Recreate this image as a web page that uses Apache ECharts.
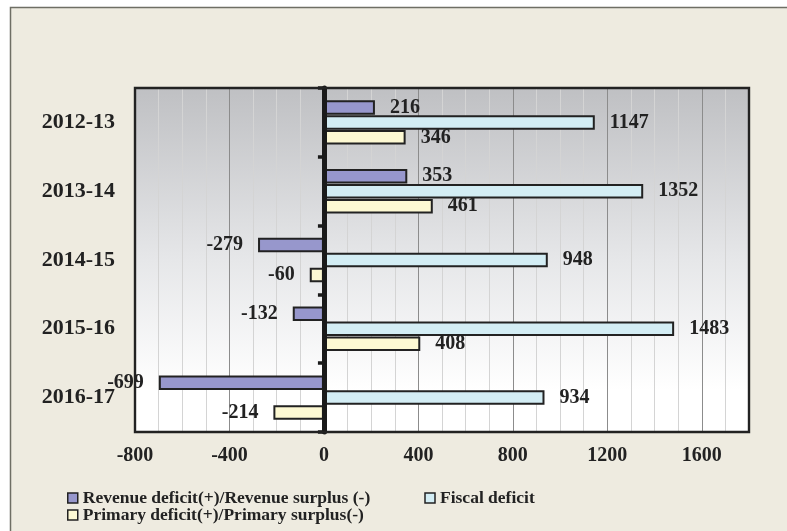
<!DOCTYPE html>
<html>
<head>
<meta charset="utf-8">
<script src="https://cdn.jsdelivr.net/npm/echarts@6/dist/echarts.min.js"></script>
<style>html,body{margin:0;padding:0;background:#fff}#c{width:787px;height:531px}</style>
</head>
<body>
<div id="c"></div>
<script>
var categories = ['2012-13', '2013-14', '2014-15', '2015-16', '2016-17'];
var revenueDeficit = [216, 353, -279, -132, -699];
var fiscalDeficit = [1147, 1352, 948, 1483, 934];
var primaryDeficit = [346, 461, -60, 408, -214];
var seriesNames = ['Revenue deficit(+)/Revenue surplus (-)', 'Fiscal deficit', 'Primary deficit(+)/Primary surplus(-)'];
var xTicks = [-800, -400, 0, 400, 800, 1200, 1600];

var FONT = '"Liberation Serif", "Times New Roman", serif';
var colors = ['#9797cc', '#d3edf4', '#fdf9d3'];

function items(arr) {
  return arr.map(function (v) {
    return { value: v, label: { position: v < 0 ? 'left' : 'right' } };
  });
}

function bar(name, arr, color) {
  return {
    name: name,
    type: 'bar',
    yAxisIndex: 0,
    data: items(arr),
    barWidth: 14.5,
    barGap: '3%',
    itemStyle: { color: color, borderColor: '#222', borderWidth: 2 },
    label: {
      show: true,
      distance: 15,
      fontFamily: FONT,
      fontWeight: 'bold',
      fontSize: 20,
      color: '#222'
    }
  };
}

var chart = echarts.init(document.getElementById('c'), null, { renderer: 'canvas' });
chart.setOption({
  backgroundColor: '#ffffff',
  animation: false,
  graphic: [
    {
      type: 'rect', z: -100, silent: true,
      shape: { x: 10.5, y: 7.5, width: 800, height: 600 },
      style: { fill: '#eeebe0', stroke: '#6e6e64', lineWidth: 1.5 }
    },
    {
      type: 'rect', z: 100, silent: true,
      shape: { x: 135, y: 88, width: 614, height: 344 },
      style: { fill: 'none', stroke: '#222', lineWidth: 2.4 }
    }
  ],
  grid: {
    left: 135, right: 38, top: 88, bottom: 99,
    show: true,
    borderWidth: 0,
    backgroundColor: new echarts.graphic.LinearGradient(0, 0, 0, 1, [
      { offset: 0, color: '#bfc0c3' },
      { offset: 0.5, color: '#e6e7e9' },
      { offset: 0.88, color: '#ffffff' },
      { offset: 1, color: '#ffffff' }
    ])
  },
  xAxis: {
    type: 'value',
    min: -800, max: 1800, interval: 100,
    axisLine: { show: false },
    axisTick: { show: false },
    splitLine: { show: true, lineStyle: { width: 1, color: ['#8c8c8c', '#d4d4d4', '#d4d4d4', '#d4d4d4'] } },
    axisLabel: {
      margin: 14,
      fontFamily: FONT, fontWeight: 'bold', fontSize: 20, color: '#222',
      formatter: function (v) { return xTicks.indexOf(v) >= 0 ? String(v) : ''; }
    }
  },
  yAxis: [
    {
      type: 'category', data: categories, inverse: true, position: 'left',
      axisLine: { show: false, onZero: false },
      axisTick: { show: false },
      splitLine: { show: false },
      axisLabel: { margin: 20, fontFamily: FONT, fontWeight: 'bold', fontSize: 22, color: '#222' }
    },
    {
      type: 'category', data: categories, inverse: true, position: 'left', z: 10,
      axisLine: { show: true, onZero: true, lineStyle: { color: '#1a1a1a', width: 5 } },
      axisTick: { show: true, inside: false, length: 6, lineStyle: { color: '#1a1a1a', width: 3.5 } },
      axisLabel: { show: false },
      splitLine: { show: false }
    }
  ],
  legend: [
    {
      data: [seriesNames[0], seriesNames[1]],
      left: 62, top: 484, orient: 'horizontal',
      itemWidth: 10, itemHeight: 10, itemGap: 54,
      icon: 'rect',
      itemStyle: { borderColor: '#222', borderWidth: 1.5 },
      textStyle: { fontFamily: FONT, fontWeight: 'bold', fontSize: 17.5, color: '#222' }
    },
    {
      data: [seriesNames[2]],
      left: 62, top: 501, orient: 'horizontal',
      itemWidth: 10, itemHeight: 10,
      icon: 'rect',
      itemStyle: { borderColor: '#222', borderWidth: 1.5 },
      textStyle: { fontFamily: FONT, fontWeight: 'bold', fontSize: 17.5, color: '#222' }
    }
  ],
  series: [
    bar(seriesNames[0], revenueDeficit, colors[0]),
    bar(seriesNames[1], fiscalDeficit, colors[1]),
    bar(seriesNames[2], primaryDeficit, colors[2])
  ]
});
</script>
</body>
</html>
